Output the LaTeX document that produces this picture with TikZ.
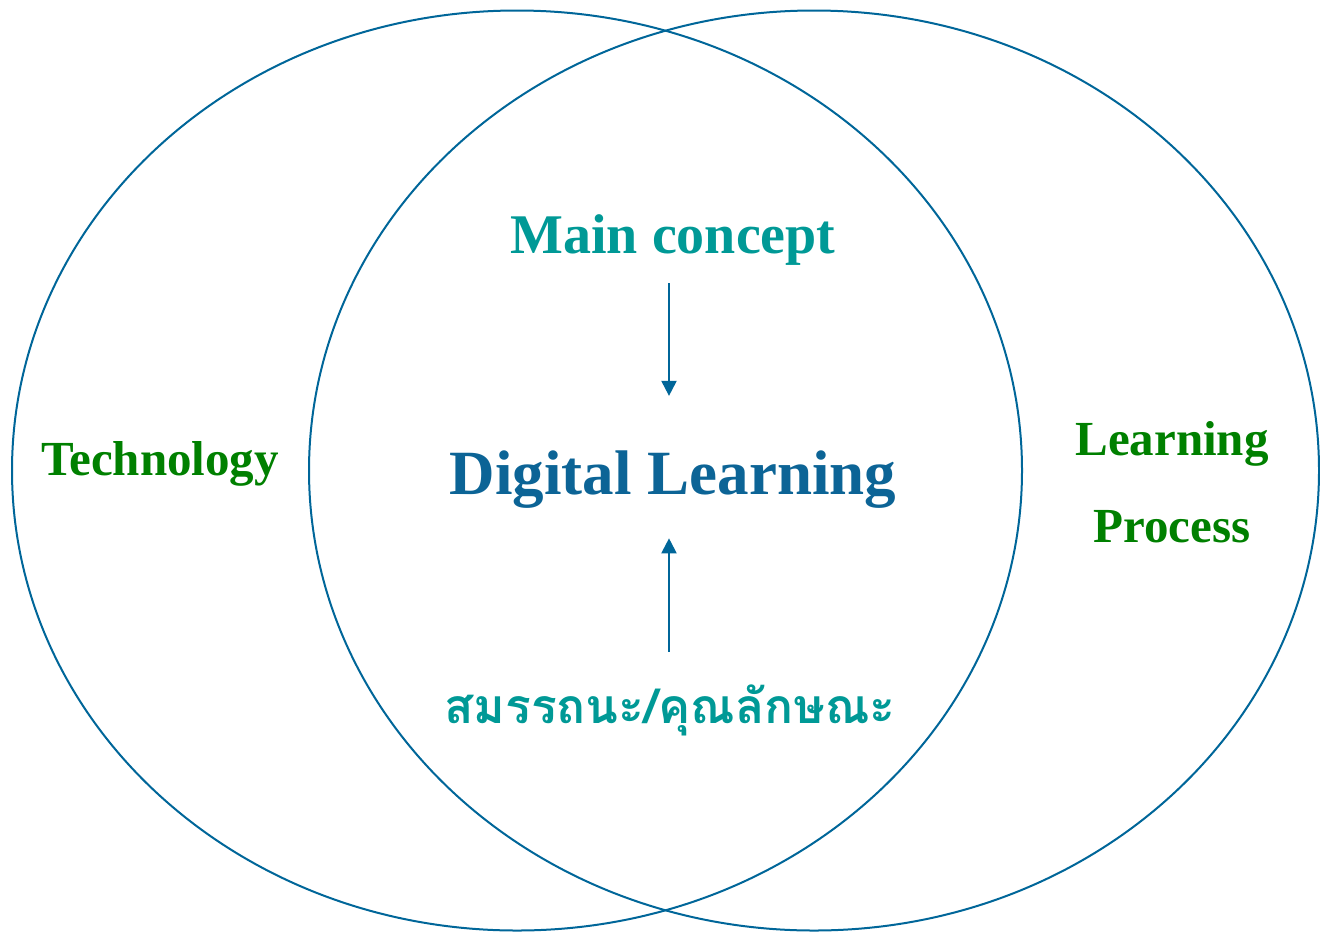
\documentclass[tikz,border=0pt]{standalone}
\usepackage{fontspec}
\setmainfont{Liberation Serif}
\newfontfamily\thaifont[Script=Thai]{Loma}
\usepackage{tikz}
\usetikzlibrary{positioning, arrows.meta}
\definecolor{ringblue}{RGB}{0,102,153}
\definecolor{dlblue}{RGB}{12,100,150}
\definecolor{maincol}{RGB}{0,153,150}
\definecolor{leafgreen}{RGB}{0,128,0}

\begin{document}
\begin{tikzpicture}[x=0.5pt, y=-0.5pt,
  ring/.style={draw=ringblue, line width=1pt},
  link/.style={ringblue, line width=1pt, -{Triangle[width=7.5pt,length=7.5pt]}},
  lbl/.style={inner sep=0pt, anchor=base}]
\useasboundingbox (0,0) rectangle (1320,932);

% draw the two ellipses
\draw[ring] (517,470.5) ellipse [x radius=505, y radius=460];
\draw[ring] (814,470.5) ellipse [x radius=505, y radius=460];

% centre texts
\node[lbl, maincol, font=\bfseries\fontsize{28}{34}\selectfont] (main) at (673,253) {Main concept};
\node[lbl, dlblue, font=\bfseries\fontsize{31.5}{38}\selectfont] (dl) at (673,494) {Digital Learning};
\node[lbl, maincol, font=\thaifont\bfseries\fontsize{24}{30}\selectfont] (comp) at (670,723) {สมรรถนะ/คุณลักษณะ};

% side texts
\node[lbl, leafgreen, font=\bfseries\fontsize{24.5}{30}\selectfont] (tech) at (160,475) {Technology};
\node[lbl, leafgreen, font=\bfseries\fontsize{24.5}{30}\selectfont] (learn) at (1172,455) {Learning};
\node[lbl, leafgreen, font=\bfseries\fontsize{24.5}{30}\selectfont] (proc) at (1172,542) {Process};

% arrows into digital learning
\draw[link, shorten <=9pt, shorten >=27pt] ([xshift=-2pt]main.south) -- ([xshift=-2pt]dl.north);
\draw[link, shorten <=16pt, shorten >=15pt] ([xshift=-0.5pt]comp.north) -- ([xshift=-2pt]dl.south);
\end{tikzpicture}
\end{document}
